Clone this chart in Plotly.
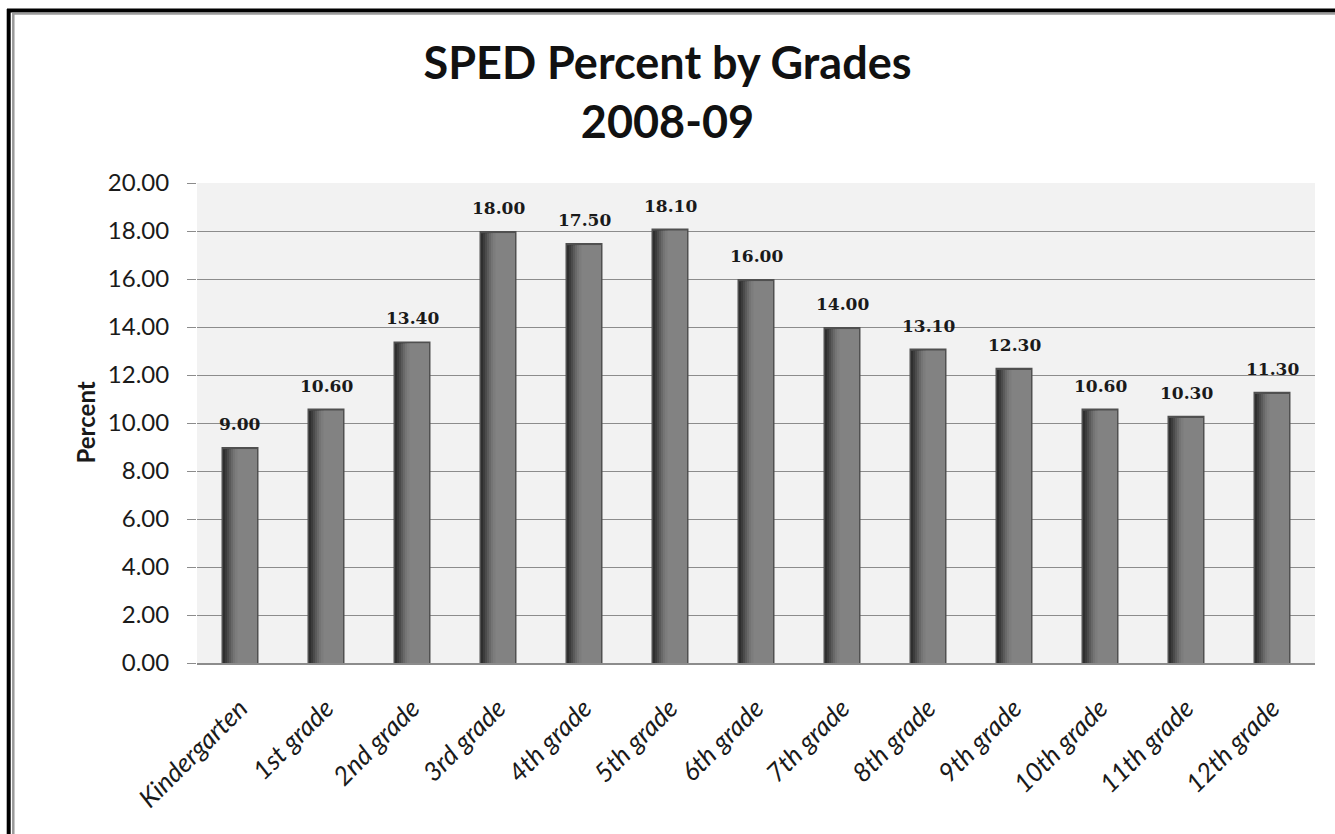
import plotly.graph_objects as go

# --- data -------------------------------------------------------------
grades = ["Kindergarten", "1st grade", "2nd grade", "3rd grade", "4th grade",
          "5th grade", "6th grade", "7th grade", "8th grade", "9th grade",
          "10th grade", "11th grade", "12th grade"]
sped_percent = [9.00, 10.60, 13.40, 18.00, 17.50, 18.10, 16.00,
                14.00, 13.10, 12.30, 10.60, 10.30, 11.30]
y_ticks = [0, 2, 4, 6, 8, 10, 12, 14, 16, 18, 20]

# --- page geometry (pixels) ------------------------------------------
W, H = 1335, 834
ML, MR, MT, MB = 197, 20, 183, 171
PW, PH = W - ML - MR, H - MT - MB
CAT_PX = PW / len(grades)          # pixel width of one category slot
BAR_PX = 37                        # bar width in pixels


def px_to_cat(p):
    return p / CAT_PX


def paper_x(p):
    return (p - ML) / PW


def paper_y(p):
    return (H - MB - p) / PH


fig = go.Figure()

# outer bar (acts as the dark rim of each column)
fig.add_trace(go.Bar(
    x=grades, y=sped_percent,
    width=px_to_cat(BAR_PX),
    marker=dict(color="#505050", line=dict(width=0)),
    hoverinfo="skip", showlegend=False,
))

# shaded inner strips: dark on the left, fading to mid grey
half = BAR_PX / 2
inner_top = [v - 0.09 for v in sped_percent]
strips = [
    (1.5, "#2f2f2f"),
    (3.5, "#3c3c3c"),
    (5.5, "#4b4b4b"),
    (7.5, "#5a5a5a"),
    (9.5, "#686868"),
    (11.5, "#747474"),
    (13.5, "#7c7c7c"),
    (16.0, "#828282"),
]
right_edge = BAR_PX - 1.5
for left, color in strips:
    fig.add_trace(go.Bar(
        x=grades, y=inner_top,
        width=px_to_cat(right_edge - left),
        offset=px_to_cat(left - half),
        marker=dict(color=color, line=dict(width=0)),
        hoverinfo="skip", showlegend=False,
    ))

# value labels above each column
annotations = []
for g, v in zip(grades, sped_percent):
    annotations.append(dict(
        x=g, y=v, xref="x", yref="y",
        text=f"{v:.2f}", showarrow=False,
        yanchor="middle", yshift=23,
        font=dict(family="DejaVu Serif", size=17, color="#1a1a1a", weight="bold"),
    ))

# y-axis title
annotations.append(dict(
    x=paper_x(68), y=0.5, xref="paper", yref="paper",
    text="<b>Percent</b>", showarrow=False, textangle=-90,
    font=dict(family="Lato", size=24, color="#1a1a1a"),
))

# double frame along the left and top edges
shapes = [
    dict(type="line", xref="paper", yref="paper",
         x0=paper_x(8.7), x1=paper_x(8.7), y0=paper_y(9), y1=paper_y(H + 5),
         line=dict(color="#000000", width=4)),
    dict(type="line", xref="paper", yref="paper",
         x0=paper_x(7), x1=paper_x(W + 5), y0=paper_y(10.5), y1=paper_y(10.5),
         line=dict(color="#000000", width=4)),
    dict(type="line", xref="paper", yref="paper",
         x0=paper_x(13.3), x1=paper_x(13.3), y0=paper_y(13.5), y1=paper_y(H + 5),
         line=dict(color="#9a9a9a", width=2.5)),
    dict(type="line", xref="paper", yref="paper",
         x0=paper_x(12), x1=paper_x(W + 5), y0=paper_y(13.8), y1=paper_y(13.8),
         line=dict(color="#9a9a9a", width=2)),
]

fig.update_layout(
    width=W, height=H,
    margin=dict(l=ML, r=MR, t=MT, b=MB, pad=0),
    paper_bgcolor="#ffffff",
    plot_bgcolor="#f2f2f2",
    barmode="overlay",
    title=dict(
        text="<b>SPED Percent by Grades<br>2008-09</b>",
        x=0.5, xanchor="center", xref="container",
        y=1 - 79 / H, yanchor="middle", yref="container",
        font=dict(family="Lato", size=45, color="#111111"),
    ),
    xaxis=dict(
        showgrid=False, showline=True, linecolor="#8c8c8c", linewidth=1.5,
        ticks="", tickangle=-45, ticklabelstandoff=18,
        tickfont=dict(family="Lato", size=26, color="#1a1a1a", style="italic"),
        range=[-0.5, len(grades) - 0.5],
    ),
    yaxis=dict(
        range=[0, 20], tickvals=y_ticks, tickformat=".2f",
        showgrid=True, gridcolor="#8c8c8c", gridwidth=1.3,
        zeroline=False, showline=False,
        ticks="outside", ticklen=9, tickcolor="#8c8c8c", tickwidth=1.3,
        ticklabelstandoff=13,
        tickfont=dict(family="Lato", size=24, color="#1a1a1a"),
    ),
    annotations=annotations,
    shapes=shapes,
)

fig.write_html("out.html")
